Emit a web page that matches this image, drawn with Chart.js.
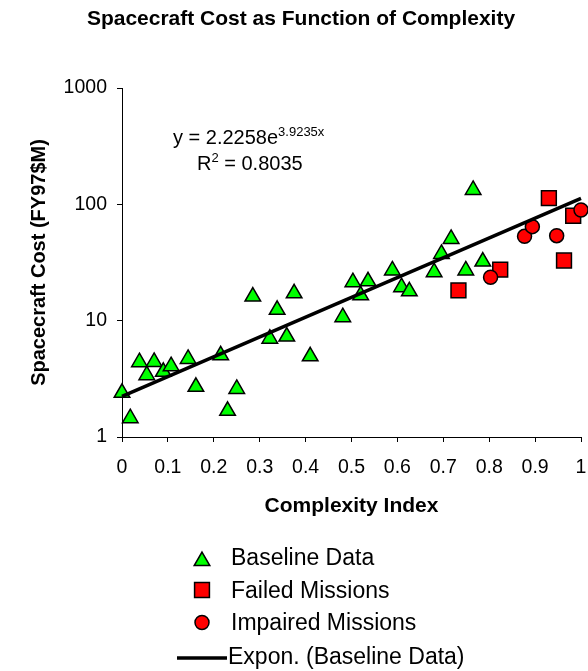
<!DOCTYPE html>
<html>
<head>
<meta charset="utf-8">
<script src="https://cdn.jsdelivr.net/npm/chart.js@4.4.1/dist/chart.umd.min.js"></script>
<style>
  html, body { margin: 0; padding: 0; background: #fff; }
  canvas { display: block; }
</style>
</head>
<body>
<canvas id="costChart" width="588" height="671"></canvas>
<script>
// values
const baselineX = [0.00, 0.018, 0.038, 0.054, 0.070, 0.090, 0.107, 0.144, 0.161, 0.215, 0.230, 0.250,
  0.285, 0.322, 0.338, 0.359, 0.375, 0.410, 0.481, 0.503, 0.520, 0.536, 0.589, 0.609, 0.626,
  0.680, 0.696, 0.717, 0.749, 0.765, 0.786];
const baselineY = [2.40, 1.45, 4.40, 3.40, 4.42, 3.63, 4.06, 4.69, 2.70, 5.04, 1.68, 2.59,
  16.1, 7.0, 12.4, 7.3, 17.2, 4.94, 10.7, 21.4, 16.5, 21.8, 27.0, 19.4, 17.9,
  26.1, 37.5, 50.4, 27.0, 133, 32.2];
const failedX = [0.733, 0.824, 0.930, 0.963, 0.983];
const failedY = [18.2, 27.5, 113, 32.9, 79.8];
const impairedX = [0.803, 0.877, 0.894, 0.947, 1.0];
const impairedY = [23.6, 53.1, 64.3, 53.8, 89.4];
const trendX = [0, 1];
const trendY = [2.23, 112.6];

const xTickLabels = ['0', '0.1', '0.2', '0.3', '0.4', '0.5', '0.6', '0.7', '0.8', '0.9', '1'];
const yTickValues = [1, 10, 100, 1000];
const legendLabels = ['Baseline Data', 'Failed Missions', 'Impaired Missions', 'Expon. (Baseline Data)'];
const chartTitle = 'Spacecraft Cost as Function of Complexity';

const FONT = '"Liberation Sans", Arial, sans-serif';
const GREEN = '#00ff00';
const RED = '#ff0000';

function toPoints(xs, ys) {
  return xs.map((x, i) => ({ x: x, y: ys[i] }));
}

function marker(ctx, shape, x, y, r) {
  ctx.beginPath();
  if (shape === 'triangle') {
    ctx.moveTo(x, y - r);
    ctx.lineTo(x + r * Math.sqrt(3) / 2, y + r / 2);
    ctx.lineTo(x - r * Math.sqrt(3) / 2, y + r / 2);
    ctx.closePath();
  } else if (shape === 'rect') {
    const s = Math.SQRT1_2 * r;
    ctx.rect(x - s, y - s, 2 * s, 2 * s);
  } else {
    ctx.arc(x, y, r, 0, Math.PI * 2);
  }
  ctx.fill();
  ctx.stroke();
}

// title, trend equation and legend
const extras = {
  id: 'extras',
  afterDraw(chart) {
    const ctx = chart.ctx;
    ctx.save();
    ctx.fillStyle = '#000';
    ctx.textBaseline = 'alphabetic';

    ctx.font = 'bold 21px ' + FONT;
    ctx.textAlign = 'center';
    ctx.fillText(chartTitle, 301, 25);

    ctx.textAlign = 'left';
    ctx.font = '20px ' + FONT;
    ctx.fillText('y = 2.2258e', 173, 144);
    let w = ctx.measureText('y = 2.2258e').width;
    ctx.font = '13px ' + FONT;
    ctx.fillText('3.9235x', 173 + w, 136);

    ctx.font = '20px ' + FONT;
    ctx.fillText('R', 197, 170);
    w = ctx.measureText('R').width;
    ctx.font = '13px ' + FONT;
    ctx.fillText('2', 197 + w, 162);
    const w2 = ctx.measureText('2').width;
    ctx.font = '20px ' + FONT;
    ctx.fillText(' = 0.8035', 197 + w + w2, 170);

    // legend
    ctx.lineWidth = 1.5;
    ctx.strokeStyle = '#000';
    ctx.fillStyle = GREEN;
    marker(ctx, 'triangle', 202, 561, 9);
    ctx.fillStyle = RED;
    marker(ctx, 'rect', 202, 590, 10.5);
    marker(ctx, 'circle', 202, 622.5, 7);
    ctx.lineWidth = 3.5;
    ctx.beginPath();
    ctx.moveTo(177, 658);
    ctx.lineTo(227, 658);
    ctx.stroke();

    ctx.fillStyle = '#000';
    ctx.font = '23px ' + FONT;
    ctx.fillText(legendLabels[0], 231, 565);
    ctx.fillText(legendLabels[1], 231, 598);
    ctx.fillText(legendLabels[2], 231, 630);
    ctx.fillText(legendLabels[3], 228, 664);
    ctx.restore();
  }
};

const ctx = document.getElementById('costChart').getContext('2d');
const chart = new Chart(ctx, {
  type: 'scatter',
  data: {
    datasets: [
      {
        label: legendLabels[3],
        type: 'line',
        data: toPoints(trendX, trendY),
        borderColor: '#000',
        borderWidth: 3.5,
        pointRadius: 0,
        fill: false,
        clip: false,
        order: 0
      },
      {
        label: legendLabels[2],
        data: toPoints(impairedX, impairedY),
        pointStyle: 'circle',
        pointRadius: 7,
        backgroundColor: RED,
        borderColor: '#000',
        borderWidth: 1.5,
        clip: false,
        order: 1
      },
      {
        label: legendLabels[1],
        data: toPoints(failedX, failedY),
        pointStyle: 'rect',
        pointRadius: 10.5,
        backgroundColor: RED,
        borderColor: '#000',
        borderWidth: 1.5,
        clip: false,
        order: 2
      },
      {
        label: legendLabels[0],
        data: toPoints(baselineX, baselineY),
        pointStyle: 'triangle',
        pointRadius: 9,
        backgroundColor: GREEN,
        borderColor: '#000',
        borderWidth: 1.5,
        clip: false,
        order: 3
      }
    ]
  },
  options: {
    responsive: false,
    maintainAspectRatio: false,
    animation: false,
    events: [],
    layout: {
      autoPadding: false,
      padding: { left: 27, right: 7, top: 88, bottom: 152 }
    },
    plugins: {
      legend: { display: false },
      title: { display: false },
      tooltip: { enabled: false }
    },
    scales: {
      x: {
        type: 'linear',
        min: 0,
        max: 1,
        ticks: {
          stepSize: 0.1,
          color: '#000',
          padding: 14,
          font: { family: FONT, size: 19.5 },
          maxRotation: 0,
          autoSkip: false,
          callback: (v, i) => xTickLabels[i]
        },
        grid: { drawOnChartArea: false, drawTicks: true, tickLength: 5, color: '#000' },
        border: { display: true, color: '#000', width: 1 },
        title: {
          display: true,
          text: 'Complexity Index',
          color: '#000',
          padding: 0,
          font: { family: FONT, size: 21, weight: 'bold' }
        },
        afterFit: (s) => {
          s.height = 82;
          s.paddingLeft = 0;
          s.paddingRight = 0;
        }
      },
      y: {
        type: 'logarithmic',
        min: 1,
        max: 1000,
        afterBuildTicks: (s) => { s.ticks = yTickValues.map(v => ({ value: v })); },
        ticks: {
          color: '#000',
          padding: 10,
          font: { family: FONT, size: 19.5 },
          callback: (v) => String(v)
        },
        grid: { drawOnChartArea: false, drawTicks: true, tickLength: 5, color: '#000' },
        border: { display: true, color: '#000', width: 1 },
        title: {
          display: true,
          text: 'Spacecraft Cost (FY97$M)',
          color: '#000',
          padding: 0,
          font: { family: FONT, size: 20, weight: 'bold' }
        },
        afterFit: (s) => { s.width = 95; }
      }
    }
  },
  plugins: [extras]
});
</script>
</body>
</html>
